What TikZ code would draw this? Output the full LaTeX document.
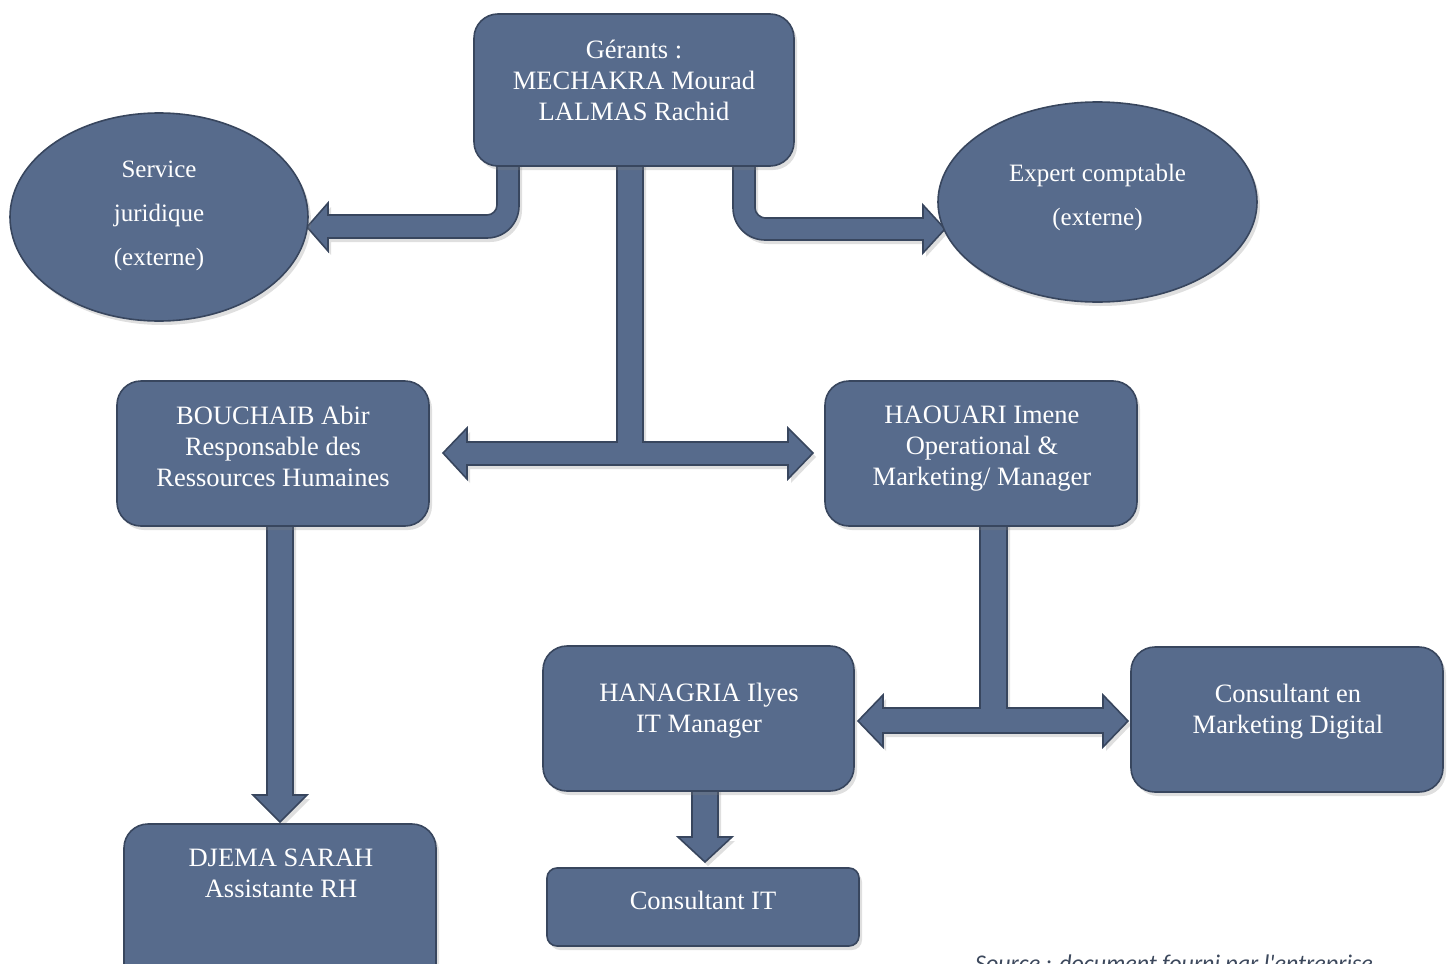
\documentclass[tikz,border=0pt]{standalone}
\usepackage{fontspec}
\setmainfont{Liberation Serif}
\newfontfamily\notefont{Carlito}
\usetikzlibrary{shapes.geometric,shadows}
\definecolor{boxfill}{RGB}{87,107,140}
\definecolor{boxline}{RGB}{56,70,94}
\definecolor{notegray}{RGB}{60,72,92}
\begin{document}
\begin{tikzpicture}[x=1pt,y=-1pt,
  shade/.style={drop shadow={opacity=0.25,shadow xshift=3pt,shadow yshift=-4pt}},
  unit/.style={shade,draw=boxline,line width=1.6pt,fill=boxfill,rounded corners=24pt,inner sep=0pt},
  oval/.style={shade,ellipse,draw=boxline,line width=1.6pt,fill=boxfill,inner sep=0pt},
  lbl/.style={text=white,align=center,inner sep=0pt,font=\fontsize{26.5}{31}\selectfont},
  ovallbl/.style={text=white,align=center,inner sep=0pt,font=\fontsize{25}{44}\selectfont},
  barrow/.style={shade,draw=boxline,line width=1.6pt,fill=boxfill,line join=miter}]
\useasboundingbox (0,0) rectangle (1452,964);

% block arrows (drawn first so the boxes sit over their ends)
% Gerants -> Service juridique
\draw[barrow] (497,160) -- (497,205) .. controls (497,210.5) and (492.5,215) .. (487,215)
  -- (328,215) -- (328,203) -- (307,227) -- (328,251) -- (328,238) -- (487,238)
  .. controls (504.7,238) and (519,223.7) .. (519,206) -- (519,160) -- cycle;
% Gerants -> Expert comptable
\draw[barrow] (755,160) -- (755,208) .. controls (755,213.5) and (760.5,218) .. (765,218)
  -- (923,218) -- (923,205) -- (945,229) -- (923,253) -- (923,240) -- (765,240)
  .. controls (747.3,240) and (733,225.7) .. (733,208) -- (733,160) -- cycle;
% Gerants -> BOUCHAIB / HAOUARI
\draw[barrow] (617,160) -- (617,442) -- (467,442) -- (467,428) -- (443,453) -- (467,479)
  -- (467,465) -- (788,465) -- (788,479) -- (813,453) -- (788,428) -- (788,442)
  -- (643,442) -- (643,160) -- cycle;
% BOUCHAIB -> DJEMA
\draw[barrow] (267,520) -- (267,795) -- (253,795) -- (280,822) -- (307,795) -- (293,795)
  -- (293,520) -- cycle;
% HAOUARI -> HANAGRIA / Consultant Marketing
\draw[barrow] (980,520) -- (980,708) -- (883,708) -- (883,695) -- (858,721) -- (883,747)
  -- (883,733) -- (1103,733) -- (1103,747) -- (1128,721) -- (1103,695) -- (1103,708)
  -- (1007,708) -- (1007,520) -- cycle;
% HANAGRIA -> Consultant IT
\draw[barrow] (692,785) -- (692,837) -- (678,837) -- (705,862) -- (732,837) -- (718,837)
  -- (718,785) -- cycle;

% boxes and ellipses
\node[unit,minimum width=320,minimum height=152] (ger) at (634,90) {};
\node[oval,minimum width=298,minimum height=208] (sj) at (159,217) {};
\node[oval,minimum width=319,minimum height=200] (ec) at (1097.5,202) {};
\node[unit,minimum width=312,minimum height=145] (bou) at (273,453.5) {};
\node[unit,minimum width=312,minimum height=145] (hao) at (981,453.5) {};
\node[unit,minimum width=311,minimum height=145] (han) at (698.5,718.5) {};
\node[unit,minimum width=312,minimum height=145] (cmd) at (1287,719.5) {};
\node[unit,minimum width=312,minimum height=200] (dje) at (280,924) {};
\node[unit,rounded corners=10pt,minimum width=312,minimum height=78] (cit) at (703,907) {};

% texts
\node[lbl] (gerT) at (634,80) {Gérants :\\MECHAKRA Mourad\\LALMAS Rachid};
\node[ovallbl] (sjT) at (159,216) {Service\\juridique\\(externe)};
\node[ovallbl] (ecT) at (1097.5,197) {Expert comptable\\(externe)};
\node[lbl] (bouT) at (273,446) {BOUCHAIB Abir\\Responsable des\\Ressources Humaines};
\node[lbl] (haoT) at (982,449) {HAOUARI Imene\\Operational \&\\Marketing/ Manager};
\node[lbl] (hanT) at (699,711) {HANAGRIA Ilyes\\IT Manager};
\node[lbl] (cmdT) at (1288,711.5) {Consultant en\\Marketing Digital};
\node[lbl] (djeT) at (281,873.5) {DJEMA SARAH\\Assistante RH};
\node[lbl] (citT) at (703,900) {Consultant IT};

% source note, running off the lower edge
\node[anchor=base west,inner sep=0pt,text=notegray,font=\notefont\itshape\fontsize{24}{28}\selectfont]
  (src) at (975,971) {Source : document fourni par l'entreprise};
\end{tikzpicture}
\end{document}
